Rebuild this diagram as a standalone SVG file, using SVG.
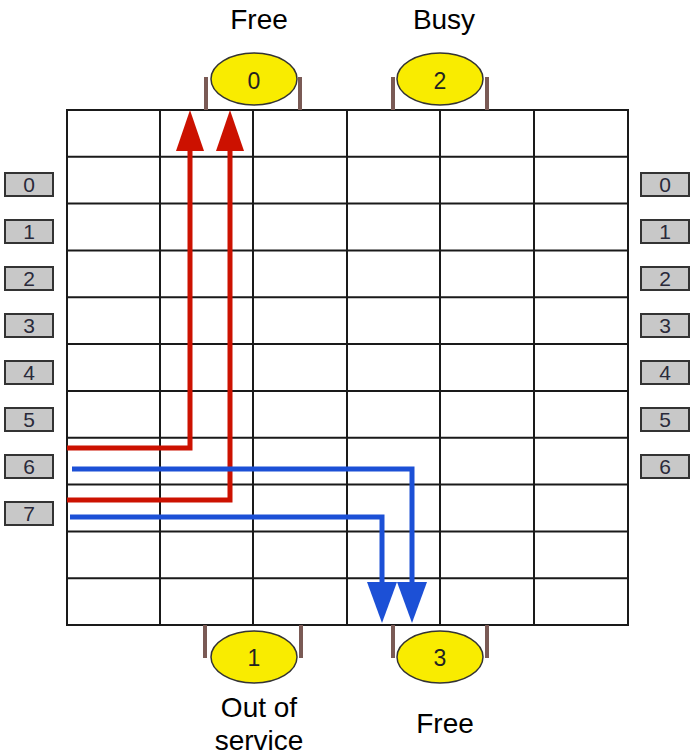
<svg xmlns="http://www.w3.org/2000/svg" width="691" height="756" viewBox="0 0 691 756">
<defs>
<style>
.grid{stroke:#1a1a1a;stroke-width:2;fill:none}
.port{fill:#c8c8c8;stroke:#333;stroke-width:2}
.pnum{font-family:"Liberation Sans",Arial,sans-serif;font-size:21px;fill:#2a2a3a;text-anchor:middle}
.ell{fill:#f9ec00;stroke:#333;stroke-width:1.5}
.brk{stroke:#7a5a55;stroke-width:4;fill:none}
.enum{font-family:"Liberation Sans",Arial,sans-serif;font-size:23px;fill:#222;text-anchor:middle}
.lbl{font-family:"Liberation Sans",Arial,sans-serif;font-size:28px;fill:#000;text-anchor:middle}
.red{stroke:#cc1100;stroke-width:5;fill:none;stroke-linejoin:miter}
.blue{stroke:#1c50d6;stroke-width:5;fill:none;stroke-linejoin:miter}
</style>
</defs>
<rect width="691" height="756" fill="#fff"/>
<g id="grid">
<rect class="grid" x="67" y="110" width="561" height="515"/>
<path class="grid" d="M160,110V625M253,110V625M347,110V625M440,110V625M534,110V625M67,156.8H628M67,203.6H628M67,250.5H628M67,297.3H628M67,344.1H628M67,390.9H628M67,437.7H628M67,484.5H628M67,531.4H628M67,578.2H628"/>
</g>
<g id="left-ports">
<g id="L0"><rect class="port" x="5" y="173" width="48" height="23"/><text class="pnum" x="29" y="192">0</text></g>
<g id="L1"><rect class="port" x="5" y="220" width="48" height="23"/><text class="pnum" x="29" y="239">1</text></g>
<g id="L2"><rect class="port" x="5" y="267" width="48" height="23"/><text class="pnum" x="29" y="286">2</text></g>
<g id="L3"><rect class="port" x="5" y="314" width="48" height="23"/><text class="pnum" x="29" y="333">3</text></g>
<g id="L4"><rect class="port" x="5" y="361" width="48" height="23"/><text class="pnum" x="29" y="380">4</text></g>
<g id="L5"><rect class="port" x="5" y="408" width="48" height="23"/><text class="pnum" x="29" y="427">5</text></g>
<g id="L6"><rect class="port" x="5" y="455" width="48" height="23"/><text class="pnum" x="29" y="474">6</text></g>
<g id="L7"><rect class="port" x="5" y="502" width="48" height="23"/><text class="pnum" x="29" y="521">7</text></g>
</g>
<g id="right-ports">
<g id="R0"><rect class="port" x="641" y="173" width="48" height="23"/><text class="pnum" x="665" y="192">0</text></g>
<g id="R1"><rect class="port" x="641" y="220" width="48" height="23"/><text class="pnum" x="665" y="239">1</text></g>
<g id="R2"><rect class="port" x="641" y="267" width="48" height="23"/><text class="pnum" x="665" y="286">2</text></g>
<g id="R3"><rect class="port" x="641" y="314" width="48" height="23"/><text class="pnum" x="665" y="333">3</text></g>
<g id="R4"><rect class="port" x="641" y="361" width="48" height="23"/><text class="pnum" x="665" y="380">4</text></g>
<g id="R5"><rect class="port" x="641" y="408" width="48" height="23"/><text class="pnum" x="665" y="427">5</text></g>
<g id="R6"><rect class="port" x="641" y="455" width="48" height="23"/><text class="pnum" x="665" y="474">6</text></g>
</g>
<g id="trunk0">
<path class="brk" d="M206,77V110M300,77V110"/>
<ellipse class="ell" cx="254" cy="79" rx="43" ry="26"/>
<text class="enum" x="254" y="89">0</text>
<text class="lbl" x="259" y="29">Free</text>
</g>
<g id="trunk2">
<path class="brk" d="M393,77V110M487,77V110"/>
<ellipse class="ell" cx="440" cy="79" rx="43" ry="26"/>
<text class="enum" x="440" y="89">2</text>
<text class="lbl" x="444" y="29">Busy</text>
</g>
<g id="trunk1">
<path class="brk" d="M205,625V658M301,625V658"/>
<ellipse class="ell" cx="254" cy="657" rx="43" ry="26"/>
<text class="enum" x="254" y="666">1</text>
<text class="lbl" x="259" y="717">Out of</text>
<text class="lbl" x="259" y="750">service</text>
</g>
<g id="trunk3">
<path class="brk" d="M393,625V658M487,625V658"/>
<ellipse class="ell" cx="440" cy="657" rx="43" ry="26"/>
<text class="enum" x="440" y="666">3</text>
<text class="lbl" x="445" y="733">Free</text>
</g>
<g id="connectors">
<path class="red" d="M67,448H190V148"/>
<polygon fill="#cc1100" points="190,110 176,151 204,151"/>
<path class="red" d="M67,500H230V148"/>
<polygon fill="#cc1100" points="230,110 216,151 244,151"/>
<path class="blue" d="M72,469H412V585"/>
<polygon fill="#1c50d6" points="412,623 397,582 427,582"/>
<path class="blue" d="M70,517H382V585"/>
<polygon fill="#1c50d6" points="382,623 367,582 397,582"/>
</g>
</svg>
